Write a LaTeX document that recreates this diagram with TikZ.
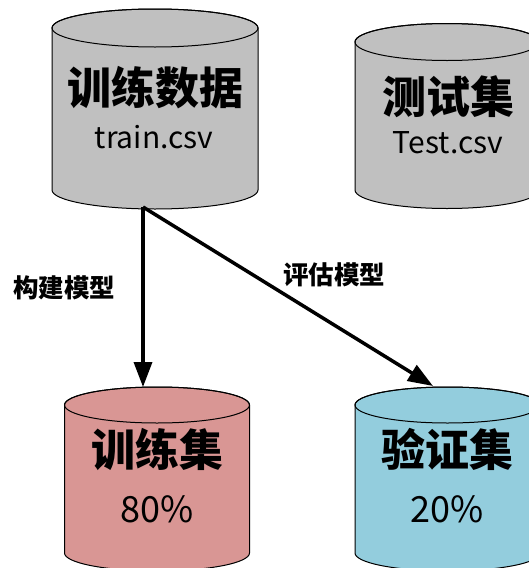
\documentclass[tikz,border=0pt]{standalone}
\usepackage{fontspec}
\setmainfont{Noto Sans CJK SC}
\usetikzlibrary{arrows.meta}
\definecolor{cylgray}{HTML}{C0C0C0}
\definecolor{cylred}{HTML}{D99694}
\definecolor{cylblue}{HTML}{93CDDD}
\newcommand\dbcyl[6]{%
  \path[draw=black, line width=1pt, fill=#6] (#1-#2,#3) -- (#1-#2,#4)
    arc[start angle=180, end angle=360, x radius=#2pt, y radius=#5pt]
    -- (#1+#2,#3)
    arc[start angle=0, end angle=180, x radius=#2pt, y radius=#5pt] -- cycle;
  \draw[line width=1pt] (#1,#3) ellipse[x radius=#2pt, y radius=#5pt];
}
\begin{document}
\begin{tikzpicture}[x=1pt, y=-1pt,
  title/.style={font=\fontsize{44}{50}\selectfont\bfseries, inner sep=0pt},
  sub/.style={font=\fontsize{30}{36}\selectfont, inner sep=0pt},
  pct/.style={font=\fontsize{36}{40}\selectfont, inner sep=0pt},
  lbl/.style={font=\fontsize{25.5}{30}\selectfont\bfseries, inner sep=0pt},
  flow/.style={line width=3.5pt, -{Triangle[length=25pt, width=18pt]}}]
\useasboundingbox (0,0) rectangle (529,568);
\clip (0,0) rectangle (529,568);
% cylinders
\dbcyl{155}{103}{28}{190}{19}{cylgray}
\dbcyl{447}{92}{42}{190}{18.5}{cylgray}
\dbcyl{157}{92.5}{405}{553}{18}{cylred}
\dbcyl{447.5}{92.5}{405}{553}{18}{cylblue}
% texts
\node[title] (traindata) at (155,88) {训练数据};
\node[sub] (traincsv) at (154,137) {train.csv};
\node[title] (testset) at (448,97) {测试集};
\node[sub] (testcsv) at (448,143) {Test.csv};
\node[title] (trainset) at (157.5,449) {训练集};
\node[pct] (p80) at (157.5,509) {80\%};
\node[title] (valset) at (447.5,449) {验证集};
\node[pct] (p20) at (447.5,509) {20\%};
% connector ends
\coordinate (trainbot) at (143,207);
\coordinate (trsettop) at (143,387);
\coordinate (valtop) at (433,386);
\draw[flow] (trainbot) -- (trsettop);
\draw[flow] (trainbot) -- (valtop);
\node[lbl] (build) at (64,288) {构建模型};
\node[lbl] (evalm) at (334,275) {评估模型};
\end{tikzpicture}
\end{document}
